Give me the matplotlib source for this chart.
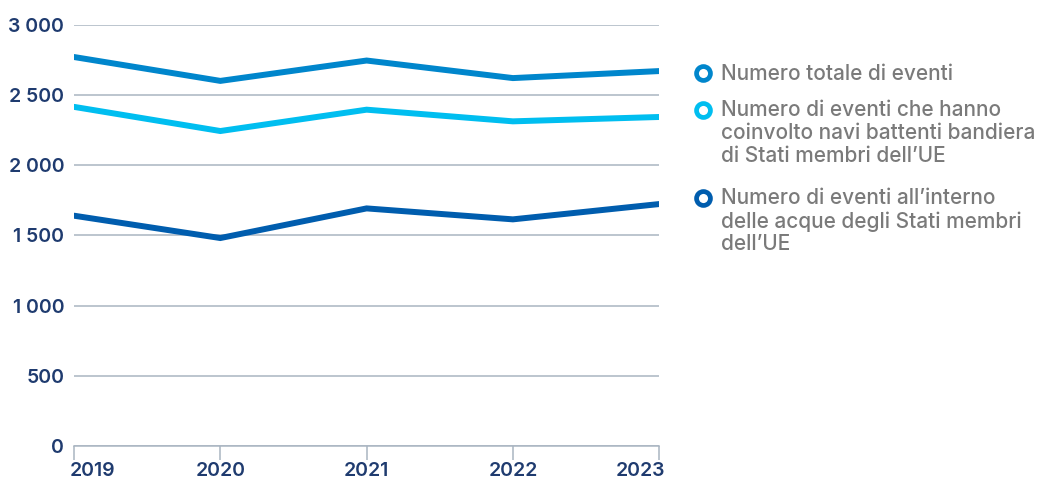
import numpy as np
import matplotlib.pyplot as plt
import matplotlib.transforms as mtransforms
from matplotlib.lines import Line2D

years = [2019, 2020, 2021, 2022, 2023]
totale = [2770, 2600, 2745, 2620, 2670]
bandiera_ue = [2415, 2243, 2395, 2312, 2343]
acque_ue = [1640, 1481, 1692, 1614, 1723]

yticks = [0, 500, 1000, 1500, 2000, 2500, 3000]
ytick_labels = ['0', '500', '1 000', '1 500', '2 000', '2 500', '3 000']

labels = [
    'Numero totale di eventi',
    'Numero di eventi che hanno\ncoinvolto navi battenti bandiera\ndi Stati membri dell\u2019UE',
    'Numero di eventi all\u2019interno\ndelle acque degli Stati membri\ndell\u2019UE',
]
colors = ['#0086CC', '#00BEF0', '#005DAE']
navy = '#1F3B6F'
grid_col = '#A9B5C1'

fig = plt.figure(figsize=(10.43, 4.8), dpi=100)
ax = fig.add_axes([0.071, 0.0708, 0.561, 0.8777])

for vals, c in zip([totale, bandiera_ue, acque_ue], colors):
    ax.plot(years, vals, color=c, lw=4.3, solid_capstyle='round',
            solid_joinstyle='miter', zorder=3)

ax.set_xlim(2019, 2023)
ax.set_ylim(0, 3000)
ax.set_yticks(yticks)
ax.set_yticklabels(ytick_labels)
ax.set_xticks(years)
ax.set_xticklabels([str(y) for y in years])
ax.grid(axis='y', color=grid_col, lw=1.1)
ax.set_axisbelow(True)

for s in ['left', 'right', 'top']:
    ax.spines[s].set_visible(False)
ax.spines['bottom'].set_color(grid_col)
ax.spines['bottom'].set_linewidth(1.1)

ax.tick_params(axis='y', length=0, pad=7, labelsize=14, labelcolor=navy)
ax.tick_params(axis='x', length=10, width=1.1, color=grid_col, pad=1.5,
               labelsize=14, labelcolor=navy)
for t in ax.get_xticklabels() + ax.get_yticklabels():
    t.set_fontfamily('Inter')
    t.set_fontweight('semibold')

# end labels hug the axis ends
xt = ax.get_xticklabels()
xt[0].set_horizontalalignment('left')
xt[0].set_transform(xt[0].get_transform() +
                    mtransforms.ScaledTranslation(-4 / 100, 0, fig.dpi_scale_trans))
xt[-1].set_horizontalalignment('right')
xt[-1].set_transform(xt[-1].get_transform() +
                     mtransforms.ScaledTranslation(6 / 100, 0, fig.dpi_scale_trans))

# legend, built by hand so the marker sits on the first line
H = 480.0
W = 1043.0
entry_y = [73, 110, 198]
for lab, c, yy in zip(labels, colors, entry_y):
    fy = 1 - yy / H
    fig.add_artist(Line2D([703 / W], [fy], marker='o', markersize=10,
                          markerfacecolor='white', markeredgecolor=c,
                          markeredgewidth=3.4, transform=fig.transFigure))
    fig.text(721 / W, fy + 9.5 / H, lab, ha='left', va='top', fontsize=15,
             color='#7A7A7A', family='Inter', fontweight='medium',
             linespacing=1.16)

fig.savefig('out.png', dpi=100)
